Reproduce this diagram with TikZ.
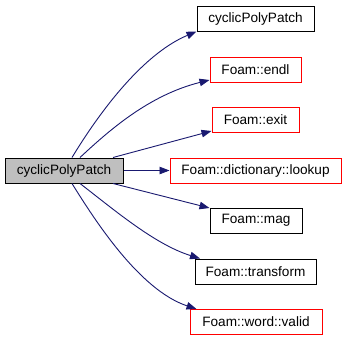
\documentclass[tikz,border=0pt]{standalone}
\usepackage{fontspec}
\setmainfont{Liberation Sans}
\usetikzlibrary{arrows.meta}
\definecolor{edgeblue}{HTML}{191970}
\definecolor{boxgray}{HTML}{BFBFBF}
\begin{document}
\begin{tikzpicture}[x=1pt,y=-1pt,
  box/.style={draw=black,line width=1pt,fill=white,inner sep=0pt,minimum height=25pt,
    font=\fontsize{13.6}{16}\selectfont},
  redbox/.style={box,draw=red},
  mainbox/.style={box,fill=boxgray},
  call/.style={draw=edgeblue,line width=0.9pt,
    -{Triangle[length=10pt,width=7.5pt,fill=edgeblue]}}]
\useasboundingbox[fill=white] (0,0) rectangle (347,341);
% caller
\node[mainbox,minimum width=118pt] (main) at (64,170.5) {cyclicPolyPatch};
% callees
\node[box,minimum width=117pt]    (cpp)       at (255.5,18.5)  {cyclicPolyPatch};
\node[redbox,minimum width=91pt]  (endl)      at (255.5,69.5)  {Foam::endl};
\node[redbox,minimum width=87pt]  (exit)      at (255.5,119.5) {Foam::exit};
\node[redbox,minimum width=171pt] (lookup)    at (255.5,170.5) {Foam::dictionary::lookup};
\node[box,minimum width=92pt]     (mag)       at (256,220.5)   {Foam::mag};
\node[box,minimum width=121pt]    (transform) at (255.5,271.5) {Foam::transform};
\node[redbox,minimum width=132pt] (valid)     at (256,322)     {Foam::word::valid};
% call edges
\draw[call] ([xshift=8pt]main.north) .. controls +(23,-38) and +(-57,24) .. (cpp.south west);
\draw[call] ([xshift=16pt]main.north) .. controls +(30,-28) and +(-60,15) .. ([yshift=-10.5pt]endl.west);
\draw[call] ([xshift=49pt]main.north) -- ([yshift=-11.5pt]exit.west);
\draw[call] (main.east) -- (lookup.west);
\draw[call] ([xshift=49pt]main.south) -- ([yshift=12.5pt]mag.west);
\draw[call] ([xshift=16pt]main.south) .. controls +(35,27) and +(-45,-14) .. ([xshift=-55.5pt]transform.north);
\draw[call] ([xshift=8pt]main.south) .. controls +(23,37) and +(-57,-19) .. ([xshift=7pt]valid.north west);
\end{tikzpicture}
\end{document}
